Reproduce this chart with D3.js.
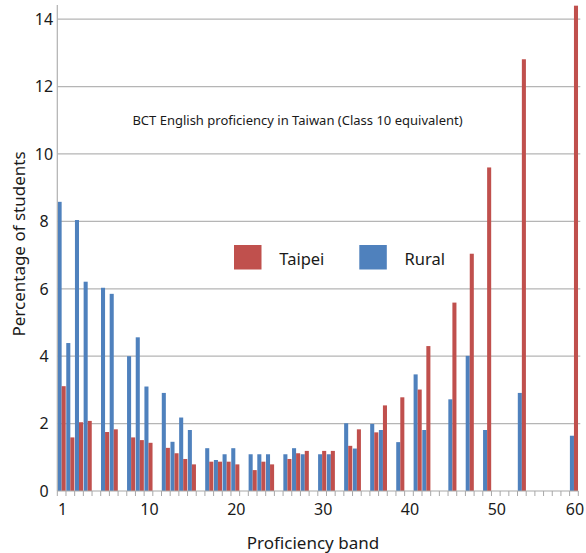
<!DOCTYPE html>
<html><head><meta charset="utf-8">
<script src="https://cdn.jsdelivr.net/npm/d3@7/dist/d3.min.js"></script>
<style>
body{margin:0;background:#fff}
svg{display:block}
text{font-family:"Noto Sans","Open Sans",sans-serif;fill:#1a1a1a}
</style>
</head><body>
<svg id="chart" width="586" height="553"></svg>
<script>
// ---- data ----
const categories = [1,2,3,4,5,6,7,8,9,10,11,12,13,14,15,16,17,18,19,20,
  21,22,23,24,25,26,27,28,29,30,31,32,33,34,35,36,37,38,39,40,
  41,42,43,44,45,46,47,48,49,50,51,52,53,54,55,56,57,58,59,60];
const rural = [8.58,4.39,8.04,6.21,null,6.03,5.85,null,4.00,4.56,
  3.10,null,2.91,1.46,2.18,1.81,null,1.27,0.92,1.09,
  1.27,null,1.09,1.09,1.09,null,1.09,1.27,1.09,null,
  1.09,1.09,null,2.01,1.26,null,1.99,1.81,null,1.45,
  null,3.46,1.81,null,null,2.72,null,4.01,null,1.81,
  null,null,null,2.91,null,null,null,null,null,1.64];
const taipei = [3.11,1.59,2.04,2.08,null,1.75,1.83,null,1.59,1.51,
  1.43,null,1.28,1.12,0.95,0.79,null,0.87,0.87,0.87,
  0.79,null,0.62,0.87,0.79,null,0.95,1.12,1.19,null,
  1.19,1.19,null,1.34,1.83,null,1.74,2.54,null,2.78,
  null,3.01,4.30,null,null,5.59,null,7.04,null,9.60,
  null,null,null,12.81,null,null,null,null,null,14.40];
const seriesNames = ["Rural","Taipei"];
const legendNames = ["Taipei","Rural"];
const yTicks = [0,2,4,6,8,10,12,14];
const xLabelCats = [1,11,21,31,41,51,60];
const xLabelTexts = ["1","10","20","30","40","50","60"];
const yMax = 14.42;
const titleText = "BCT English proficiency in Taiwan (Class 10 equivalent)";
const xTitle = "Proficiency band";
const yTitle = "Percentage of students";

// ---- styles / layout ----
const colors = {Rural:"#4F81BD", Taipei:"#C0504D"};
const L = 57.3, R = 578.3, T = 5, B = 491;

const svg = d3.select("#chart");
const x = d3.scaleBand().domain(categories).range([L, R]).paddingInner(0).paddingOuter(0);
const xs = d3.scaleBand().domain(seriesNames).range([0, x.bandwidth()]).paddingOuter(0.07).paddingInner(0);
const y = d3.scaleLinear().domain([0, yMax]).range([B, T]);

// gridlines
svg.append("g").selectAll("line").data(yTicks.filter(d=>d>0)).join("line")
  .attr("x1", L).attr("x2", R+2).attr("y1", d=>y(d)).attr("y2", d=>y(d))
  .attr("stroke", "#b5b5b5").attr("stroke-width", 1.2);

// bars
const rows = categories.map((c,i)=>({c, Rural: rural[i], Taipei: taipei[i]}));
const g = svg.append("g");
seriesNames.forEach(s=>{
  g.selectAll("rect."+s).data(rows.filter(r=>r[s]!=null)).join("rect")
    .attr("class", s)
    .attr("x", r=>x(r.c)+xs(s))
    .attr("width", xs.bandwidth())
    .attr("y", r=>y(r[s]))
    .attr("height", r=>y(0)-y(r[s]))
    .attr("fill", colors[s]);
});

// y axis line
svg.append("line").attr("x1", L).attr("x2", L).attr("y1", T).attr("y2", B)
  .attr("stroke", "#b0b0b0").attr("stroke-width", 1.2);
// x axis line
svg.append("line").attr("x1", L).attr("x2", R).attr("y1", B).attr("y2", B)
  .attr("stroke", "#a8a8a8").attr("stroke-width", 1.2);
// x ticks at band boundaries
const bounds = categories.map(c=>x(c)).concat([R]);
svg.append("g").selectAll("line").data(bounds).join("line")
  .attr("x1", d=>d).attr("x2", d=>d).attr("y1", B).attr("y2", B+5)
  .attr("stroke", "#a8a8a8").attr("stroke-width", 1);

// y tick labels
svg.append("g").selectAll("text").data(yTicks).join("text")
  .attr("x", 44).attr("y", d=>y(d)).attr("dy", "0.36em")
  .attr("text-anchor", "middle").style("font-size", "16px").text(d=>d);

// x tick labels
svg.append("g").selectAll("text").data(xLabelCats).join("text")
  .attr("x", (d)=>x(d)+x.bandwidth()/2+1).attr("y", 514.5)
  .attr("text-anchor", "middle").style("font-size", "16px").text((d,i)=>xLabelTexts[i]);

// axis titles
svg.append("text").attr("x", 313).attr("y", 549).attr("text-anchor", "middle")
  .style("font-size", "17px").text(xTitle);
svg.append("text").attr("transform", "translate(25,244) rotate(-90)").attr("text-anchor", "middle")
  .style("font-size", "17px").text(yTitle);

// chart title
svg.append("text").attr("x", 297.5).attr("y", 125).attr("text-anchor", "middle")
  .style("font-size", "13px").text(titleText);

// legend
const legendX = [234, 359.3];
legendNames.forEach((n,i)=>{
  svg.append("rect").attr("x", legendX[i]).attr("y", 245).attr("width", 27.5).attr("height", 24.5)
    .attr("fill", colors[n]);
  svg.append("text").attr("x", legendX[i]+45.3).attr("y", 264.5)
    .style("font-size", "16.5px").text(n);
});
</script>
</body></html>
